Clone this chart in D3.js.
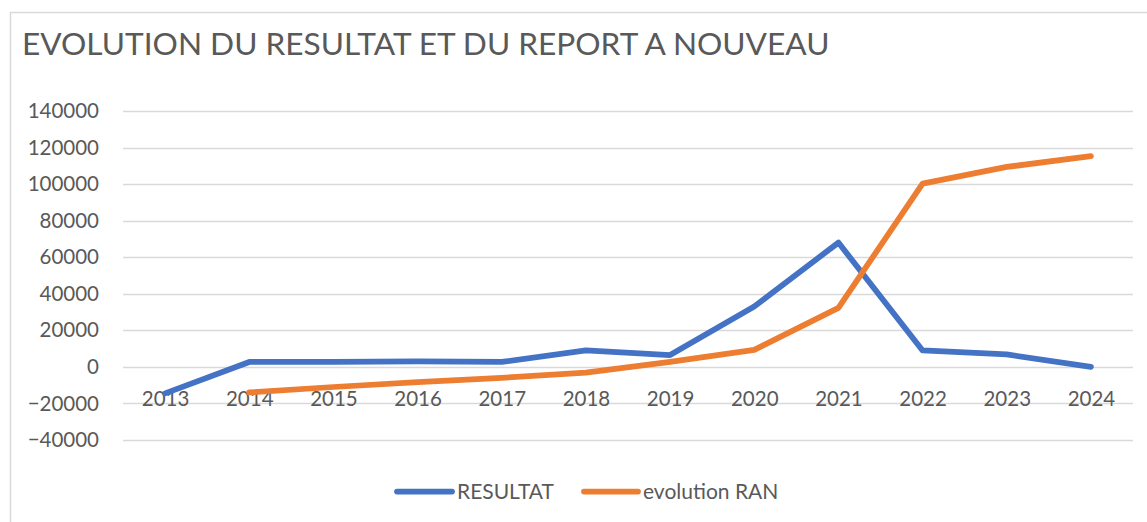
<!DOCTYPE html>
<html>
<head>
<meta charset="utf-8">
<script src="https://cdn.jsdelivr.net/npm/d3@7"></script>
<style>
  html, body { margin: 0; padding: 0; background: #fff; }
  svg { display: block; font-family: Lato, "Open Sans", sans-serif; }
</style>
</head>
<body>
<svg id="chart" width="1147" height="522"></svg>
<script>
const titleText = "EVOLUTION DU RESULTAT ET DU REPORT A NOUVEAU";
const years = ["2013","2014","2015","2016","2017","2018","2019","2020","2021","2022","2023","2024"];
const resultat = [-14500, 2700, 2700, 3000, 2700, 9000, 6500, 33000, 68000, 9000, 6800, 0];
const evolutionRAN = [null, -14000, -11000, -8300, -6000, -3100, 2700, 9300, 32300, 100300, 109400, 115300];
const yTicks = [-40000, -20000, 0, 20000, 40000, 60000, 80000, 100000, 120000, 140000];
const seriesNames = ["RESULTAT", "evolution RAN"];
const seriesColors = ["#4472C4", "#ED7D31"];

const svg = d3.select("#chart");
const textColor = "#595959";
const gridColor = "#D9D9D9";

// chart border
svg.append("rect").attr("x", 10.5).attr("y", 12.5).attr("width", 1160).attr("height", 520)
  .attr("fill", "#fff").attr("stroke", gridColor).attr("stroke-width", 1.5);

// title
const title = svg.append("text").attr("x", 22).attr("y", 55)
  .attr("fill", textColor).style("font-size", "30px").text(titleText);
const tw = title.node().getComputedTextLength();
title.style("font-size", (30 * 808 / tw) + "px");

const x = d3.scalePoint().domain(years).range([123, 1133]).padding(0.5);
const y = d3.scaleLinear().domain([-40000, 140000]).range([440, 111]);

// gridlines
svg.append("g").selectAll("line").data(yTicks).join("line")
  .attr("x1", 123).attr("x2", 1133)
  .attr("y1", d => Math.round(y(d)) + 0.5).attr("y2", d => Math.round(y(d)) + 0.5)
  .attr("stroke", gridColor).attr("stroke-width", 1.5);

// y axis labels
const yAxis = d3.axisLeft(y).tickValues(yTicks).tickSize(0).tickPadding(0).tickFormat(d3.format("d"));
const gy = svg.append("g").attr("transform", "translate(99,0)").call(yAxis);
gy.select(".domain").remove();
gy.selectAll("text").attr("fill", textColor).style("font-size", "20.5px").style("font-family", "Lato, sans-serif");

// x axis labels (placed at y = 0 line)
const xAxis = d3.axisBottom(x).tickSize(0).tickPadding(0);
const gx = svg.append("g").attr("transform", `translate(0,${y(0)})`).call(xAxis);
gx.select(".domain").remove();
gx.selectAll("text").attr("fill", textColor).attr("dy", null).attr("y", 39)
  .style("font-size", "20.5px").style("font-family", "Lato, sans-serif");

// lines
const lineGen = d3.line().defined(d => d.v !== null).x(d => x(d.year)).y(d => y(d.v));
const data = [resultat, evolutionRAN];
data.forEach((vals, i) => {
  svg.append("path")
    .datum(years.map((yr, j) => ({year: yr, v: vals[j]})))
    .attr("d", lineGen)
    .attr("fill", "none")
    .attr("stroke", seriesColors[i])
    .attr("stroke-width", 5.75)
    .attr("stroke-linejoin", "round")
    .attr("stroke-linecap", "round");
});

// legend
const legendItems = [{x1: 397, x2: 452, tx: 457}, {x1: 584, x2: 638, tx: 643}];
const lg = svg.append("g");
legendItems.forEach((it, i) => {
  lg.append("line").attr("x1", it.x1).attr("x2", it.x2).attr("y1", 491.5).attr("y2", 491.5)
    .attr("stroke", seriesColors[i]).attr("stroke-width", 5.75).attr("stroke-linecap", "round");
  lg.append("text").attr("x", it.tx).attr("y", 499).attr("fill", textColor)
    .style("font-size", "21px").text(seriesNames[i]);
});
</script>
</body>
</html>
